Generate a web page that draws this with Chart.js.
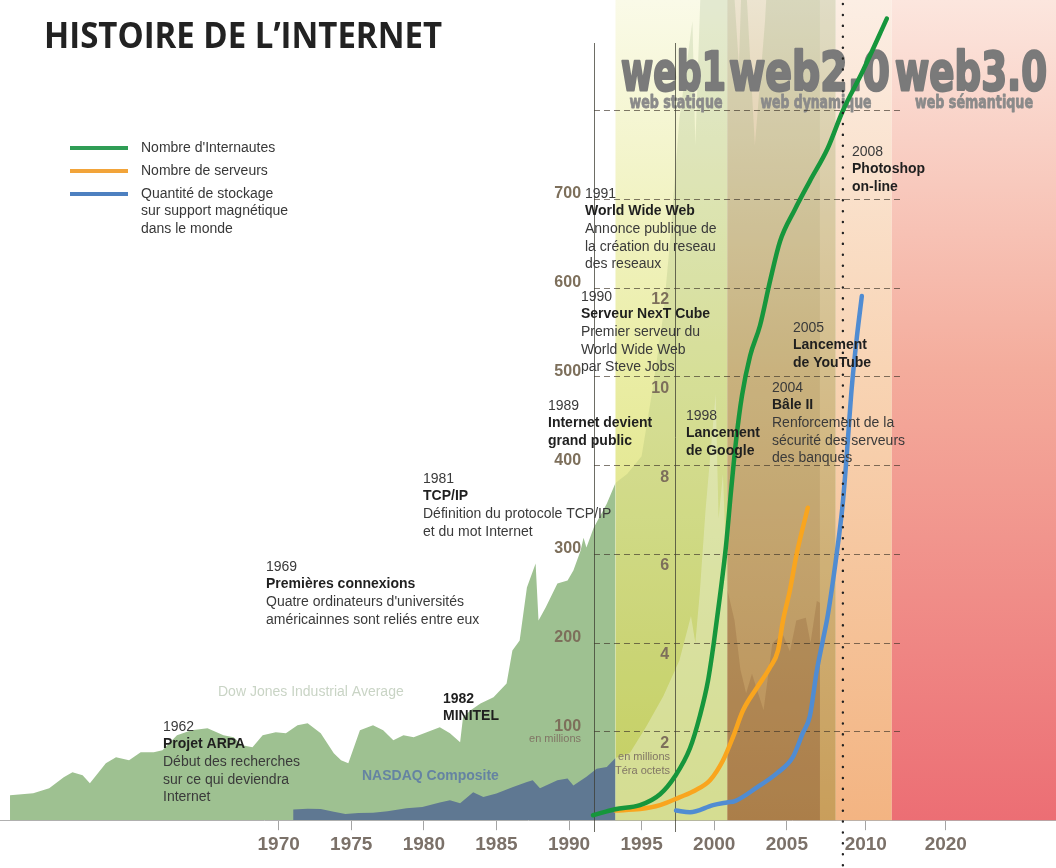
<!DOCTYPE html>
<html>
<head>
<meta charset="utf-8">
<script src="https://cdn.jsdelivr.net/npm/chart.js"></script>
<style>
  html, body { margin: 0; padding: 0; background: #fff; }
  #wrap { width: 1056px; height: 868px; }
</style>
</head>
<body>
<div id="wrap"><canvas id="histoire" width="1056" height="868"></canvas></div>
<script>
// time axis: linear up to 2005, then squeezed (as on the poster)
function pos(year) {
  if (year <= 2005) return year;
  if (year <= 2010) return 2005 + (year - 2005) * 1.088;
  return 2010.44 + (year - 2010) * 0.551;
}

var tickYears = [1970, 1975, 1980, 1985, 1990, 1995, 2000, 2005, 2010, 2020];
var usersTicks = [100, 200, 300, 400, 500, 600, 700];
var storageTicks = [2, 4, 6, 8, 10, 12];
var gridValues = [100, 200, 300, 400, 500, 600, 700, 800];

// Nombre d'Internautes (millions, left scale)
var internautesYears = [1991.65, 1993.17, 1994.89, 1996.27, 1997.30, 1998.33, 1999.02, 1999.57, 1999.99, 2000.40,
  2000.81, 2001.16, 2001.50, 2001.91, 2002.47, 2003.15, 2003.84, 2004.53, 2005.51, 2006.46,
  2007.59, 2008.54, 2009.81, 2012.63];
var internautes = [5.6, 12.4, 16.9, 29.2, 49.5, 81, 118, 157, 202, 253,
  309, 371, 427, 478, 523, 557, 607, 652, 688, 720,
  757, 799, 844, 903];

// Nombre de serveurs (right scale)
var serveursYears = [1993.17, 1994.89, 1996.27, 1997.64, 1998.68, 1999.71, 2000.61, 2001.29, 2001.98, 2002.95,
  2003.84, 2004.39, 2004.74, 2005.19, 2005.63, 2006.33];
var serveurs = [0.22, 0.25, 0.34, 0.52, 0.67, 0.90, 1.35, 1.87, 2.47, 2.99,
  3.44, 3.82, 4.50, 5.17, 6.01, 7.04];

// Quantite de stockage (right scale)
var stockageYears = [1997.37, 1998.33, 1999.92, 2000.88, 2001.43, 2002.95, 2004.33, 2005.38, 2006.01, 2006.46,
  2006.90, 2007.28, 2007.59, 2008.16, 2008.54, 2008.80, 2009.11, 2009.43, 2009.75];
var stockage = [0.22, 0.18, 0.34, 0.40, 0.43, 0.74, 1.06, 1.42, 1.96, 2.35,
  3.37, 4.05, 4.61, 6.01, 7.13, 8.26, 9.74, 10.87, 11.81];

// Dow Jones Industrial Average (index points)
var dowYears = [1951.5, 1953.1, 1954.2, 1955.2, 1955.8, 1956.5, 1957.0, 1958.1, 1958.8, 1959.7,
  1960.5, 1961.4, 1962.0, 1963.0, 1964.0, 1965.1, 1966.2, 1966.9, 1967.5, 1968.2,
  1968.9, 1969.8, 1970.5, 1971.3, 1972.0, 1972.9, 1973.8, 1974.3, 1974.8, 1975.6,
  1976.5, 1977.2, 1977.9, 1978.6, 1979.3, 1980.2, 1981.1, 1981.8, 1982.5, 1982.7,
  1983.2, 1983.9, 1984.8, 1985.7, 1986.1, 1986.6, 1987.1, 1987.7, 1987.9, 1988.4,
  1989.2, 1989.9, 1990.3, 1990.8, 1991.0, 1991.2, 1991.7, 1992.6, 1993.2, 1994.0,
  1995.0, 1995.8, 1996.5, 1997.0, 1997.6, 1998.5, 1998.7, 1999.3, 2000.0, 2000.9,
  2001.7, 2002.0, 2002.8, 2003.5, 2004.0, 2005.0, 2006.0, 2006.8, 2007.5, 2008.1];
var dow = [281, 304, 360, 484, 540, 506, 416, 641, 709, 675,
  765, 765, 787, 956, 1012, 1035, 956, 934, 844, 821,
  956, 990, 979, 1069, 1091, 979, 754, 675, 641, 1012,
  1069, 1012, 900, 956, 934, 990, 1046, 979, 877, 1159,
  1237, 1316, 1384, 1541, 1912, 2025, 2621, 2891, 2250, 2400,
  2666, 2700, 2812, 3037, 3183, 3071, 3296, 3566, 3800, 3900,
  4100, 4900, 5700, 6600, 7900, 9000, 7600, 10500, 11500, 10500,
  8500, 10000, 7600, 9000, 10500, 10500, 11000, 12300, 13800, 12500];

// NASDAQ Composite (index points)
var nasdaqYears = [1971.0, 1972.0, 1972.9, 1973.8, 1974.6, 1975.5, 1976.5, 1977.5, 1978.8, 1979.9,
  1981.1, 1981.8, 1982.5, 1983.4, 1984.1, 1985.0, 1986.1, 1987.1, 1987.5, 1988.0,
  1989.2, 1989.9, 1990.3, 1991.2, 1991.9, 1992.6, 1993.2, 1994.2, 1995.3, 1996.5,
  1997.6, 1998.4, 1998.7, 1999.0, 1999.4, 2000.1, 2000.3, 2000.6, 2000.9, 2001.4,
  2001.8, 2002.2, 2002.6, 2003.4, 2004.0, 2004.7, 2005.2, 2005.6, 2006.2, 2006.5,
  2006.9, 2007.1];
var nasdaq = [120, 130, 125, 95, 70, 80, 85, 100, 135, 150,
  200, 225, 190, 315, 260, 300, 370, 430, 450, 360,
  450, 470, 390, 490, 580, 600, 700, 760, 1050, 1400,
  1800, 2300, 2000, 2550, 3490, 4800, 3400, 3900, 2600, 2250,
  1700, 1430, 1650, 1240, 1990, 2100, 1900, 2250, 2280, 2000,
  2470, 2450];

// eras in the background (web1 / web2.0 / web3.0)
var bandFrom = [1993.2, 2000.9, 2007.1, 2008.1, 2013.25];
var bandTo = [2000.9, 2007.1, 2008.1, 2013.25, 2040];
var bandStops = [0, 0.45, 1];
var bandColors = [
  ['rgb(250,250,232)', 'rgb(234,237,165)', 'rgb(212,218,98)'],
  ['rgb(236,228,208)', 'rgb(218,184,134)', 'rgb(200,140,84)'],
  ['rgb(246,234,218)', 'rgb(232,198,150)', 'rgb(218,160,92)'],
  ['rgb(252,238,228)', 'rgb(248,212,180)', 'rgb(243,180,130)'],
  ['rgb(252,230,222)', 'rgb(244,172,156)', 'rgb(236,110,116)']
];

function points(years, values) {
  return years.map(function (y, i) { return { x: pos(y), y: values[i] }; });
}

var notes = [
  { x: 163, y: 727, lines: [['1962', 'r'], ['Projet ARPA', 'b'], ['Début des recherches', 'r'], ['sur ce qui deviendra', 'r'], ['Internet', 'r']] },
  { x: 266, y: 567, lines: [['1969', 'r'], ['Premières connexions', 'b'], ["Quatre ordinateurs d'universités", 'r'], ['américainnes sont reliés entre eux', 'r']] },
  { x: 423, y: 479, lines: [['1981', 'r'], ['TCP/IP', 'b'], ['Définition du protocole TCP/IP', 'r'], ['et du mot Internet', 'r']] },
  { x: 443, y: 699, lines: [['1982', 'b'], ['MINITEL', 'b']] },
  { x: 548, y: 406, lines: [['1989', 'r'], ['Internet devient', 'b'], ['grand public', 'b']] },
  { x: 581, y: 297, lines: [['1990', 'r'], ['Serveur NexT Cube', 'b'], ['Premier serveur du', 'r'], ['World Wide Web', 'r'], ['par Steve Jobs', 'r']] },
  { x: 585, y: 194, lines: [['1991', 'r'], ['World Wide Web', 'b'], ['Annonce publique de', 'r'], ['la création du reseau', 'r'], ['des reseaux', 'r']] },
  { x: 686, y: 416, lines: [['1998', 'r'], ['Lancement', 'b'], ['de Google', 'b']] },
  { x: 772, y: 388, lines: [['2004', 'r'], ['Bâle II', 'b'], ['Renforcement de la', 'r'], ['sécurité des serveurs', 'r'], ['des banques', 'r']] },
  { x: 793, y: 328, lines: [['2005', 'r'], ['Lancement', 'b'], ['de YouTube', 'b']] },
  { x: 852, y: 152, lines: [['2008', 'r'], ['Photoshop', 'b'], ['on-line', 'b']] }
];

var legendItems = [
  { color: '#2f9d55', y: 148, lines: ["Nombre d'Internautes"] },
  { color: '#f2a43a', y: 171, lines: ['Nombre de serveurs'] },
  { color: '#4d80c0', y: 194, lines: ['Quantité de stockage', 'sur support magnétique', 'dans le monde'] }
];

var decor = {
  id: 'decor',
  beforeDatasetsDraw: function (chart) {
    var c = chart.ctx, xs = chart.scales.x, a = chart.chartArea;
    c.save();
    for (var i = 0; i < bandFrom.length; i++) {
      var x0 = xs.getPixelForValue(pos(bandFrom[i]));
      var x1 = Math.min(xs.getPixelForValue(pos(bandTo[i])), a.right);
      var g = c.createLinearGradient(0, a.top, 0, a.bottom);
      bandColors[i].forEach(function (col, k) { g.addColorStop(bandStops[k], col); });
      c.fillStyle = g;
      c.fillRect(x0, a.top, x1 - x0, a.bottom - a.top);
    }
    c.restore();
  },
  beforeDatasetDraw: function (chart, args) {
    if (args.index !== 2) return; // before the first curve
    var c = chart.ctx, xs = chart.scales.x, ys = chart.scales.y;
    c.save();
    // era titles, heavy condensed
    c.textBaseline = 'alphabetic';
    c.textAlign = 'left';
    c.fillStyle = '#7a7a7a';
    c.strokeStyle = '#7a7a7a';
    c.lineJoin = 'round';
    c.lineWidth = 2.6;
    c.font = 'bold 53px "DejaVu Sans"';
    [['web1', 621, 105], ['web2.0', 729, 161], ['web3.0', 895, 152]].forEach(function (w) {
      c.strokeText(w[0], w[1], 90, w[2]);
      c.fillText(w[0], w[1], 90, w[2]);
    });
    c.textAlign = 'center';
    c.fillStyle = '#8a8a8a';
    c.strokeStyle = '#8a8a8a';
    c.lineWidth = 0.8;
    c.font = 'bold 17px "DejaVu Sans"';
    [['web statique', 676, 93], ['web dynamique', 816, 111], ['web sémantique', 974, 118]].forEach(function (w) {
      c.strokeText(w[0], w[1], 108, w[2]);
      c.fillText(w[0], w[1], 108, w[2]);
    });
    // dashed grid
    var gx0 = xs.getPixelForValue(pos(1991.72)), gx1 = xs.getPixelForValue(pos(2014.5));
    c.strokeStyle = 'rgba(60,50,40,0.65)';
    c.lineWidth = 1;
    c.setLineDash([6, 4]);
    gridValues.forEach(function (v) {
      var y = Math.round(ys.getPixelForValue(v)) + 0.5;
      c.beginPath(); c.moveTo(gx0, y); c.lineTo(gx1, y); c.stroke();
    });
    // axis lines
    c.setLineDash([]);
    c.strokeStyle = 'rgba(60,60,50,0.75)';
    [1991.72, 1997.3].forEach(function (yr) {
      var x = Math.round(xs.getPixelForValue(pos(yr))) + 0.5;
      c.beginPath(); c.moveTo(x, 43); c.lineTo(x, 832); c.stroke();
    });
    c.restore();
  },
  afterDatasetsDraw: function (chart) {
    var c = chart.ctx, xs = chart.scales.x;
    var x = xs.getPixelForValue(pos(2008.55));
    c.save();
    c.strokeStyle = '#222';
    c.lineWidth = 2.4;
    c.lineCap = 'round';
    c.setLineDash([0.1, 10.8]);
    c.beginPath(); c.moveTo(x, 4); c.lineTo(x, 868); c.stroke();
    c.restore();
  },
  afterDraw: function (chart) {
    var c = chart.ctx;
    c.save();
    c.textAlign = 'left';
    // title
    c.fillStyle = '#222';
    c.font = 'bold 35px "Open Sans"';
    c.textBaseline = 'alphabetic';
    c.fillText('HISTOIRE DE L\u2019INTERNET', 44, 48, 398);
    c.textBaseline = 'middle';
    // legend
    legendItems.forEach(function (it) {
      c.strokeStyle = it.color;
      c.lineWidth = 4;
      c.beginPath(); c.moveTo(70, it.y); c.lineTo(128, it.y); c.stroke();
      c.fillStyle = '#383838';
      c.font = '14px "Liberation Sans"';
      it.lines.forEach(function (t, i) { c.fillText(t, 141, it.y + i * 17.5); });
    });
    // series names
    c.font = '14px "Liberation Sans"';
    c.fillStyle = '#c9d4c5';
    c.fillText('Dow Jones Industrial Average', 218, 692);
    c.font = 'bold 14px "Liberation Sans"';
    c.fillStyle = '#6583a2';
    c.fillText('NASDAQ Composite', 362, 776);
    // units
    c.font = '11px "Liberation Sans"';
    c.fillStyle = '#807565';
    c.textAlign = 'right';
    c.fillText('en millions', 581, 739);
    c.fillText('en millions', 670, 757);
    c.fillText('Téra octets', 670, 771);
    // events
    c.textAlign = 'left';
    notes.forEach(function (n) {
      n.lines.forEach(function (l, i) {
        c.font = (l[1] === 'b' ? 'bold ' : '') + '14px "Liberation Sans"';
        c.fillStyle = l[1] === 'b' ? '#1f1f1f' : '#3a3a3a';
        c.fillText(l[0], n.x, n.y + i * 17.6);
      });
    });
    c.restore();
  }
};

var axisFont = { family: 'Liberation Sans', weight: 'bold', size: 16 };

var ctx = document.getElementById('histoire').getContext('2d');
var histoire = new Chart(ctx, {
  type: 'line',
  data: {
    datasets: [
      {
        label: "Nombre d'Internautes",
        data: points(internautesYears, internautes),
        yAxisID: 'y', order: 1,
        borderColor: '#16963c', borderWidth: 4.5, borderCapStyle: 'round',
        cubicInterpolationMode: 'monotone', pointRadius: 0, fill: false
      },
      {
        label: 'Nombre de serveurs',
        data: points(serveursYears, serveurs),
        yAxisID: 'y2', order: 2,
        borderColor: '#f9a51e', borderWidth: 4.5, borderCapStyle: 'round',
        cubicInterpolationMode: 'monotone', pointRadius: 0, fill: false
      },
      {
        label: 'Quantité de stockage',
        data: points(stockageYears, stockage),
        yAxisID: 'y2', order: 3,
        borderColor: '#508cd2', borderWidth: 4.5, borderCapStyle: 'round',
        cubicInterpolationMode: 'monotone', pointRadius: 0, fill: false
      },
      {
        label: 'NASDAQ Composite',
        data: points(nasdaqYears, nasdaq),
        yAxisID: 'yIdx', order: 4,
        borderWidth: 0, borderColor: 'rgba(0,0,0,0)', pointRadius: 0,
        backgroundColor: '#5f7892', fill: 'origin',
        segment: {
          backgroundColor: function (s) {
            var yr = nasdaqYears[s.p0DataIndex];
            if (yr < bandFrom[0]) return '#5f7892';
            if (yr < bandFrom[1]) return 'rgba(236,240,215,0.42)';
            return 'rgba(110,60,30,0.18)';
          }
        }
      },
      {
        label: 'Dow Jones Industrial Average',
        data: points(dowYears, dow),
        yAxisID: 'yIdx', order: 5,
        borderWidth: 0, borderColor: 'rgba(0,0,0,0)', pointRadius: 0,
        backgroundColor: '#9ec191', fill: 'origin',
        segment: {
          backgroundColor: function (s) {
            return dowYears[s.p0DataIndex] < bandFrom[0] ? '#9ec191' : 'rgba(110,150,90,0.16)';
          }
        }
      }
    ]
  },
  options: {
    responsive: false,
    animation: false,
    events: [],
    layout: { padding: { left: 0, right: 0, top: 0, bottom: 9 } },
    plugins: { legend: { display: false }, tooltip: { enabled: false } },
    scales: {
      x: {
        type: 'linear', min: 1950.81, max: 2023.54,
        afterBuildTicks: function (s) { s.ticks = tickYears.map(function (y) { return { value: pos(y) }; }); },
        ticks: {
          autoSkip: false, maxRotation: 0, padding: 3,
          font: { family: 'Liberation Sans', weight: 'bold', size: 19 },
          color: '#7b7169',
          callback: function (v, i) { return String(tickYears[i]); }
        },
        grid: { drawOnChartArea: false, tickLength: 10, color: '#a4a4a4' },
        border: { color: '#b0b0b0' }
      },
      y: {
        type: 'linear', min: 0, max: 924,
        position: { x: pos(1990.83) },
        afterBuildTicks: function (s) { s.ticks = usersTicks.map(function (v) { return { value: v }; }); },
        afterFit: function (s) { s.paddingTop = 0; s.paddingBottom = 0; },
        grid: { display: false, drawTicks: false }, border: { display: false },
        ticks: { z: 1, autoSkip: false, font: axisFont, color: '#7d6f5b', padding: 0, labelOffset: -5 }
      },
      y2: {
        type: 'linear', min: 0, max: 18.48,
        position: { x: pos(1996.89) },
        afterBuildTicks: function (s) { s.ticks = storageTicks.map(function (v) { return { value: v }; }); },
        afterFit: function (s) { s.paddingTop = 0; s.paddingBottom = 0; },
        grid: { display: false, drawTicks: false }, border: { display: false },
        ticks: { z: 1, autoSkip: false, font: axisFont, color: '#7d6f5b', padding: 0, labelOffset: 12 }
      },
      yIdx: { type: 'linear', display: false, min: 0, max: 9240 }
    }
  },
  plugins: [decor]
});
</script>
</body>
</html>
